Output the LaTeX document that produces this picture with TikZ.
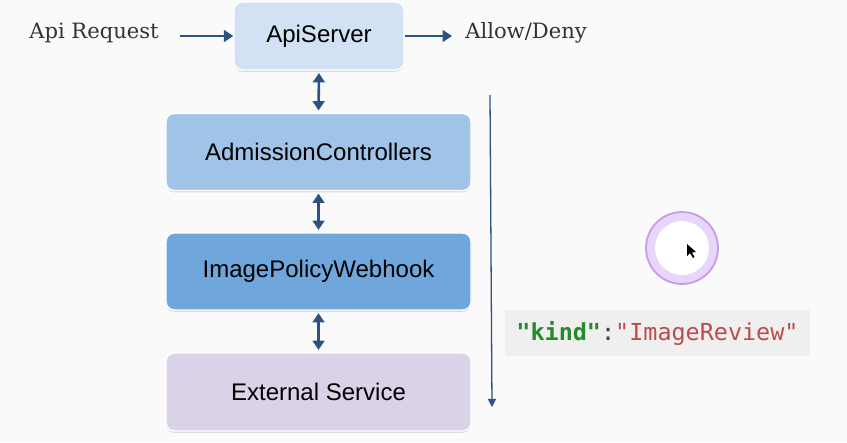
\documentclass[tikz,border=0pt]{standalone}
\usepackage{fontspec}
\setmainfont{DejaVu Serif}
\setsansfont{Liberation Sans}
\setmonofont{DejaVu Sans Mono}
\usepackage{tikz}
\usetikzlibrary{arrows.meta, positioning, shadows}
\definecolor{bgcol}{HTML}{FAFAFA}
\definecolor{apicol}{HTML}{D2E1F4}
\definecolor{admcol}{HTML}{A0C4E8}
\definecolor{imgcol}{HTML}{6FA6DC}
\definecolor{extcol}{HTML}{DAD3E8}
\definecolor{arrcol}{HTML}{2C5282}
\definecolor{codebg}{HTML}{EFEFEF}
\definecolor{keycol}{HTML}{238A2E}
\definecolor{valcol}{HTML}{BE4B4B}
\definecolor{ringcol}{HTML}{C59AEE}
\definecolor{ringfill}{HTML}{E9D5FA}
\tikzset{
  block/.style={
    rectangle,
    draw=white,
    line width=1.2pt,
    rounded corners=7pt,
    text centered,
    font=\sffamily\fontsize{20.5}{24}\selectfont,
    drop shadow={shadow xshift=0pt, shadow yshift=-1.5pt, opacity=0.25}
  },
  label/.style={
    font=\fontsize{18}{21}\selectfont,
    text=black!80
  },
  arrow/.style={
    line width=2.2pt,
    draw=arrcol,
    -{Triangle[length=8pt,width=10pt]}
  },
  twoway/.style={
    arrow,
    {Triangle[length=8pt,width=10pt]}-{Triangle[length=8pt,width=10pt]}
  }
}

\begin{document}
\begin{tikzpicture}[x=0.03cm, y=-0.03cm]
  \fill[bgcol] (0,0) rectangle (847,442);
  \useasboundingbox (0,0) rectangle (847,442);

  % top row
  \node[block, fill=apicol, minimum width=170*0.03cm, minimum height=68*0.03cm] (api) at (319,36) {ApiServer};
  \node[label] (req) at (94,33) {Api Request};
  \node[label] (res) at (526,33) {Allow/Deny};
  \coordinate (reqend) at (180,36);
  \coordinate (resend) at (452,36);

  % admission chain
  \node[block, fill=admcol, minimum width=305*0.03cm, minimum height=77*0.03cm] (adm) at (318.5,152) {AdmissionControllers};
  \node[block, fill=imgcol, minimum width=305*0.03cm, minimum height=77*0.03cm] (img) at (318.5,271.5) {ImagePolicyWebhook};
  \node[block, fill=extcol, minimum width=305*0.03cm, minimum height=78*0.03cm] (ext) at (318.5,392) {External Service};

  \draw[arrow] (reqend) -- (api.west |- reqend);
  \draw[arrow] (api.east |- resend) -- (resend);
  \draw[twoway] ([yshift=-2pt]api.south) -- ([yshift=2pt]adm.north);
  \draw[twoway] ([yshift=-2pt]adm.south) -- ([yshift=2pt]img.north);
  \draw[twoway] ([yshift=-2pt]img.south) -- ([yshift=2pt]ext.north);

  % flow line
  \coordinate (flowtop) at (490,95);
  \coordinate (flowbot) at (492,407);
  \draw[draw=arrcol, line width=1.1pt, -{Triangle[length=7pt,width=7pt]}] (flowtop) -- (flowbot);

  % code snippet
  \node[fill=codebg, minimum width=305*0.03cm, minimum height=46*0.03cm, inner sep=0pt] (code) at (657.5,333) {};
  \node[font=\ttfamily\fontsize{20}{24}\selectfont, inner sep=0pt] (kind) at (code.center)
    {\textcolor{keycol}{\bfseries"kind"}\textcolor{black!75}{:}\textcolor{valcol}{"ImageReview"}};

  % pointer highlight
  \node[circle, draw=ringcol, line width=1.5pt, fill=ringfill, minimum size=72*0.03cm] (ring) at (682,248) {};
  \fill[white] (ring.center) circle (27);
  \fill[black] (687,244) -- (687,256) -- (690,253) -- (693,258) -- (694.5,257) -- (692,252.5) -- (696,252) -- cycle;
\end{tikzpicture}
\end{document}
